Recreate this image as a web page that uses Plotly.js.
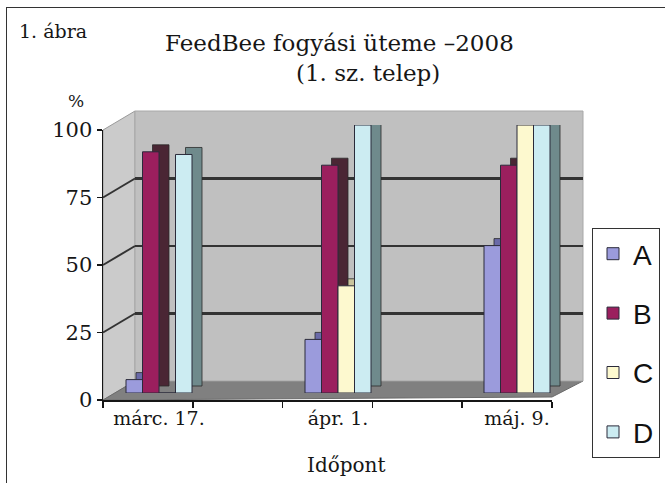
<!DOCTYPE html>
<html>
<head>
<meta charset="utf-8">
<script src="https://cdn.plot.ly/plotly-3.0.1.min.js"></script>
<style>
  html, body { margin: 0; padding: 0; background: #fff; }
  #wrap { position: relative; width: 665px; height: 483px; overflow: hidden; }
  #chart { position: absolute; left: 0; top: 0; width: 665px; height: 483px; }
  #frame { position: absolute; left: 6px; top: 7px; width: 700px; height: 500px;
           border-top: 1.5px solid #333; border-left: 1.5px solid #333; pointer-events: none; }
</style>
</head>
<body>
<div id="wrap"><div id="chart"></div><div id="frame"></div></div>
<script>
// ---- data ----
const categories = ['márc. 17.', 'ápr. 1.', 'máj. 9.'];
const seriesNames = ['A', 'B', 'C', 'D'];
const valuesA = [5, 20, 55];
const valuesB = [90, 85, 85];
const valuesC = [0, 40, 100];
const valuesD = [89, 100, 100];
const yTicks = [0, 25, 50, 75, 100];
const chartTitle = 'FeedBee fogyási üteme –2008';
const chartSubtitle = '(1. sz. telep)';
const figLabel = '1. ábra';
const yUnit = '%';
const xTitle = 'Időpont';

// ---- styling ----
const W = 665, H = 483;
const px = x => x / W;
const py = y => 1 - y / H;
const serif = 'DejaVu Serif, Liberation Serif, serif';
const ink = '#161616';
const frontColors = ['#9b9bdc', '#9b1f5e', '#fdf9cf', '#ccecf2'];
const sideColors  = ['#6a6aa8', '#4a2634', '#c9c49c', '#6f8a8c'];
const allValues = [valuesA, valuesB, valuesC, valuesD];

// geometry of the pseudo-3D frame (pixels)
const back = {x0: 135, x1: 583, yTop: 111, yBot: 381};   // back wall
const front = {x0: 103, x1: 552, yTop: 130, yBot: 400};  // front axes
const bars = {yTop: 125, yBot: 393, c0: 159, c2: 517};   // bar plane
const catW = (bars.c2 - bars.c0) / 2;                    // px per category
const barW = 16.5 / catW;
const sideDx = 10 / catW;
const sideDy = 7 / ((bars.yBot - bars.yTop) / 100);

const traces = [];
// side / top faces first (drawn behind the fronts)
allValues.forEach((vals, i) => {
  traces.push({
    type: 'bar', x: categories, y: vals.map(v => v > 0 ? v : null),
    base: sideDy, xaxis: 'x2', yaxis: 'y2',
    width: barW, offset: -2 * barW + i * barW + sideDx,
    marker: {color: sideColors[i], line: {color: '#2a2a2a', width: 0.8}},
    showlegend: false, hoverinfo: 'skip'
  });
});
// front faces
allValues.forEach((vals, i) => {
  traces.push({
    type: 'bar', name: seriesNames[i], x: categories, y: vals,
    xaxis: 'x2', yaxis: 'y2',
    width: barW, offset: -2 * barW + i * barW,
    legendgroup: seriesNames[i],
    marker: {color: frontColors[i], line: {color: '#2a2a3a', width: 1}}
  });
});
// empty traces to keep the helper subplots alive
traces.push({type: 'scatter', x: [], y: [], xaxis: 'x', yaxis: 'y', showlegend: false});
traces.push({type: 'scatter', x: [], y: [], xaxis: 'x3', yaxis: 'y3', showlegend: false});

// map value -> pixel y on back wall and front axis
const yBackPx = v => back.yBot - (back.yBot - back.yTop) * v / 100;
const yFrontPx = v => front.yBot - (front.yBot - front.yTop) * v / 100;

const shapes = [
  // left wall
  {type: 'path', xref: 'paper', yref: 'paper', layer: 'below',
   path: `M${px(front.x0)},${py(front.yTop)} L${px(back.x0)},${py(back.yTop)} L${px(back.x0)},${py(back.yBot)} L${px(front.x0)},${py(front.yBot)} Z`,
   fillcolor: '#cbcbcb', line: {color: '#9a9a9a', width: 1}},
  // floor
  {type: 'path', xref: 'paper', yref: 'paper', layer: 'below',
   path: `M${px(front.x0)},${py(front.yBot)} L${px(back.x0)},${py(back.yBot)} L${px(back.x1)},${py(back.yBot)} L${px(front.x1)},${py(front.yBot - 3)} Z`,
   fillcolor: '#808080', line: {color: '#6a6a6a', width: 1}},
  // back wall
  {type: 'rect', xref: 'x domain', yref: 'y domain', x0: 0, x1: 1, y0: 0, y1: 1,
   layer: 'below', fillcolor: '#c0c0c0', line: {color: '#a8a8a8', width: 1}}
];
// slanted gridlines on the left wall
yTicks.filter(v => v > 0 && v < 100).forEach(v => {
  shapes.push({type: 'line', xref: 'paper', yref: 'paper', layer: 'below',
    x0: px(front.x0), y0: py(yFrontPx(v)), x1: px(back.x0), y1: py(yBackPx(v)),
    line: {color: '#333', width: 2}});
});

const layout = {
  width: W, height: H,
  margin: {l: 0, r: 0, t: 0, b: 0},
  paper_bgcolor: '#fff', plot_bgcolor: 'rgba(0,0,0,0)',
  barmode: 'overlay',
  showlegend: true,
  legend: {
    x: px(592), y: py(228), xanchor: 'left', yanchor: 'top',
    bgcolor: '#fff', bordercolor: '#333', borderwidth: 1,
    font: {family: 'Liberation Sans, Arial, sans-serif', size: 28, color: '#111'},
    tracegroupgap: 20, traceorder: 'grouped', itemwidth: 30
  },
  // back wall
  xaxis: {domain: [px(back.x0), px(back.x1)], anchor: 'y', range: [0, 1],
          showgrid: false, zeroline: false, showticklabels: false, ticks: ''},
  yaxis: {domain: [py(back.yBot), py(back.yTop)], anchor: 'x', range: [0, 100],
          tickvals: [25, 50, 75], showgrid: true, gridcolor: '#333', gridwidth: 2.5,
          zeroline: false, showticklabels: false, ticks: ''},
  // bars
  xaxis2: {domain: [px(bars.c0 - 0.5 * catW), px(bars.c2 + 0.5 * catW)],
           anchor: 'free', position: py(front.yBot), type: 'category',
           range: [-0.5, 2.5], showgrid: false, zeroline: false, showline: false,
           ticks: '', ticklabelstandoff: 5,
           tickfont: {family: serif, size: 19, color: ink}},
  yaxis2: {domain: [py(bars.yBot), py(bars.yTop)], anchor: 'x2', range: [0, 100],
           showgrid: false, zeroline: false, showticklabels: false, ticks: ''},
  // front axes
  xaxis3: {domain: [px(front.x0), px(front.x1)], anchor: 'y3', range: [0, 5],
           tickvals: [0, 1, 2, 3, 4, 5], showticklabels: false, ticks: 'outside',
           ticklen: 6, tickcolor: ink, tickwidth: 1.5, showline: true, linecolor: ink,
           linewidth: 1.5, showgrid: false, zeroline: false},
  yaxis3: {domain: [py(front.yBot), py(front.yTop)], anchor: 'x3', range: [0, 100],
           tickvals: yTicks, ticks: 'outside', ticklen: 5, tickcolor: ink, tickwidth: 1.5,
           showline: true, linecolor: ink, linewidth: 1.5, showgrid: false, zeroline: false,
           tickfont: {family: serif, size: 21, color: ink}},
  shapes: shapes,
  annotations: [
    {text: figLabel, xref: 'paper', yref: 'paper', x: px(17), y: py(31), xanchor: 'left', yanchor: 'middle',
     showarrow: false, font: {family: serif, size: 19, color: ink}},
    {text: chartTitle, xref: 'paper', yref: 'paper', x: px(339), y: py(43), xanchor: 'center', yanchor: 'middle',
     showarrow: false, font: {family: serif, size: 23, color: ink}},
    {text: chartSubtitle, xref: 'paper', yref: 'paper', x: px(368), y: py(73), xanchor: 'center', yanchor: 'middle',
     showarrow: false, font: {family: serif, size: 23, color: ink}},
    {text: yUnit, xref: 'paper', yref: 'paper', x: px(76), y: py(101), xanchor: 'center', yanchor: 'middle',
     showarrow: false, font: {family: serif, size: 17, color: ink}},
    {text: xTitle, xref: 'paper', yref: 'paper', x: px(346), y: py(465), xanchor: 'center', yanchor: 'middle',
     showarrow: false, font: {family: serif, size: 20, color: ink}}
  ]
};

Plotly.newPlot('chart', traces, layout, {displayModeBar: false, staticPlot: true});
</script>
</body>
</html>
